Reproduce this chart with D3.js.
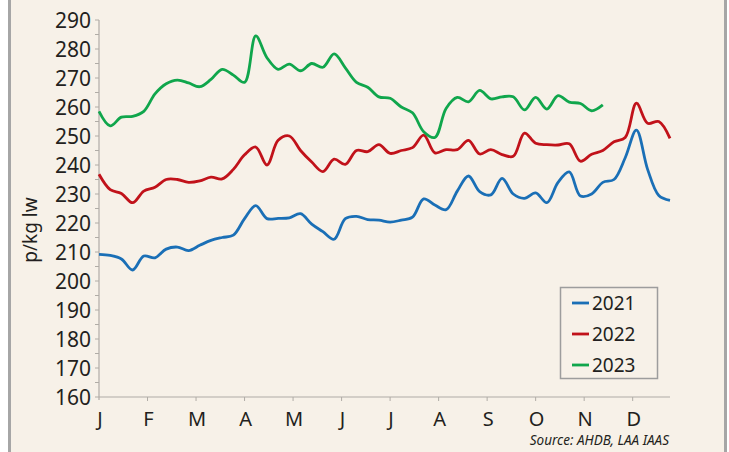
<!DOCTYPE html>
<html>
<head>
<meta charset="utf-8">
<script src="https://cdn.jsdelivr.net/npm/d3@7"></script>
<style>
  body { margin: 0; background: #ffffff; }
  svg { display: block; font-family: "Noto Sans", "Open Sans", sans-serif; }
</style>
</head>
<body>
<div id="chart"></div>
<script>
// weekly prices, p/kg lw
let weeks = d3.range(1, 53);
let months = ["J", "F", "M", "A", "M", "J", "J", "A", "S", "O", "N", "D"];
let y_ticks = [160, 170, 180, 190, 200, 210, 220, 230, 240, 250, 260, 270, 280, 290];
let years = ["2021", "2022", "2023"];

let v2021 = [209.2, 208.8, 207.6, 203.8, 208.6, 208, 211, 211.7, 210.5, 212.3, 214, 215, 215.8,
  221.5, 226, 221.5, 221.6, 221.8, 223.2, 219.6, 217, 214.4, 221.5, 222.3, 221.2, 221,
  220.3, 221, 222, 228.3, 226.2, 224.6, 231, 236.2, 230.8, 229.7, 235.4, 230, 228.5,
  230.4, 227, 234, 237.6, 229.3, 230, 234, 235, 242.5, 252, 238.5, 229.5, 227.8];
let v2022 = [236.8, 231.5, 230.2, 227, 231, 232.3, 235, 235, 234, 234.5, 235.8, 235.2, 238.5,
  243.5, 246.2, 240, 248.5, 250, 245, 241, 237.7, 242, 240.2, 245, 244.6, 247,
  244, 245, 246, 250.3, 244.2, 245.3, 245.3, 248.5, 243.8, 245.3, 243.6, 243, 251,
  247.5, 247, 246.9, 247.3, 241.3, 243.7, 245, 248, 249.5, 261.3, 254.4, 255, 249.2];
let v2023 = [258.5, 253.5, 256.5, 256.8, 258.5, 264.5, 268, 269.3, 268.3, 267, 269.5, 273, 271,
  268.5, 284.5, 277, 273, 274.8, 272.5, 275, 273.7, 278.3, 273.5, 268.5, 266.8, 263.5,
  263, 260, 258, 251.5, 249.5, 259.5, 263.3, 261.8, 265.7, 262.8, 263.5, 263.5, 259,
  263.3, 259.3, 263.9, 261.7, 261.2, 258.7, 260.7];

let colors = ["#1a6fb6", "#c1121a", "#10a64c"];
let series = [v2021, v2022, v2023];

let chart_width = 729;
let chart_height = 452;

let svg = d3.select("#chart")
  .append("svg")
  .attr("width", chart_width)
  .attr("height", chart_height);

// white margin, grey frame, beige panel
svg.append("rect")
  .attr("x", 9.5).attr("y", -5)
  .attr("width", 716).attr("height", chart_height + 10)
  .attr("fill", "#f7f1e8")
  .attr("stroke", "#a6a6a6")
  .attr("stroke-width", 3);

let x_scale = d3.scaleLinear().domain([1, 52]).range([99, 670]);
let y_scale = d3.scaleLinear().domain([160, 290]).range([397, 20]);

// y axis with minor ticks every 5
let y_axis = svg.append("g").attr("transform", "translate(99,0)");
y_axis.append("line")
  .attr("y1", y_scale(290)).attr("y2", y_scale(160) + 3)
  .attr("stroke", "#b0aca6").attr("stroke-width", 1.2);
y_axis.selectAll(".tk")
  .data(d3.range(160, 291, 5))
  .enter().append("line")
  .attr("x1", -4).attr("x2", 0)
  .attr("y1", d => y_scale(d)).attr("y2", d => y_scale(d))
  .attr("stroke", "#b0aca6").attr("stroke-width", 1);
y_axis.selectAll("text")
  .data(y_ticks)
  .enter().append("text")
  .attr("x", -8)
  .attr("y", d => y_scale(d))
  .attr("dy", "0.36em")
  .attr("text-anchor", "end")
  .attr("font-size", 21)
  .attr("fill", "#231f20")
  .text(d => d);

svg.append("text")
  .attr("transform", "translate(37,230) rotate(-90)")
  .attr("text-anchor", "middle")
  .attr("font-size", 19)
  .attr("fill", "#231f20")
  .text("p/kg lw");

// x axis, month ticks
let month_pos = d => x_scale(1 + d * 52 / 12);
let x_axis = svg.append("g");
x_axis.append("line")
  .attr("x1", 99).attr("x2", 670)
  .attr("y1", 397).attr("y2", 397)
  .attr("stroke", "#b0aca6").attr("stroke-width", 1.2);
x_axis.selectAll(".tk")
  .data(d3.range(1, 12))
  .enter().append("line")
  .attr("x1", d => month_pos(d)).attr("x2", d => month_pos(d))
  .attr("y1", 397).attr("y2", 401)
  .attr("stroke", "#b0aca6").attr("stroke-width", 1);
x_axis.selectAll("text")
  .data(months)
  .enter().append("text")
  .attr("x", (d, i) => month_pos(i) + 1)
  .attr("y", 426)
  .attr("text-anchor", "middle")
  .attr("font-size", 20)
  .attr("fill", "#231f20")
  .text(d => d);

// lines
let line = d3.line()
  .x((d, i) => x_scale(weeks[i]))
  .y(d => y_scale(d))
  .curve(d3.curveCatmullRom.alpha(0.5));

svg.selectAll(".series")
  .data(series)
  .enter().append("path")
  .attr("d", d => line(d))
  .attr("fill", "none")
  .attr("stroke", (d, i) => colors[i])
  .attr("stroke-width", 2.8)
  .attr("stroke-linejoin", "round");

// legend
let legend = svg.append("g");
legend.append("rect")
  .attr("x", 560.5).attr("y", 287.5)
  .attr("width", 97).attr("height", 91)
  .attr("fill", "#f7f1e8")
  .attr("stroke", "#9d9d9d").attr("stroke-width", 1.5);
let rows = legend.selectAll(".row")
  .data(years)
  .enter().append("g")
  .attr("transform", (d, i) => "translate(0," + (303 + i * 31) + ")");
rows.append("line")
  .attr("x1", 572).attr("x2", 589)
  .attr("stroke", (d, i) => colors[i]).attr("stroke-width", 2.8);
rows.append("text")
  .attr("x", 592)
  .attr("dy", "0.36em")
  .attr("font-size", 19)
  .attr("fill", "#231f20")
  .text(d => d);

svg.append("text")
  .attr("x", 669).attr("y", 445)
  .attr("text-anchor", "end")
  .attr("font-size", 13.5)
  .attr("font-style", "italic")
  .attr("fill", "#231f20")
  .text("Source: AHDB, LAA IAAS");
</script>
</body>
</html>
